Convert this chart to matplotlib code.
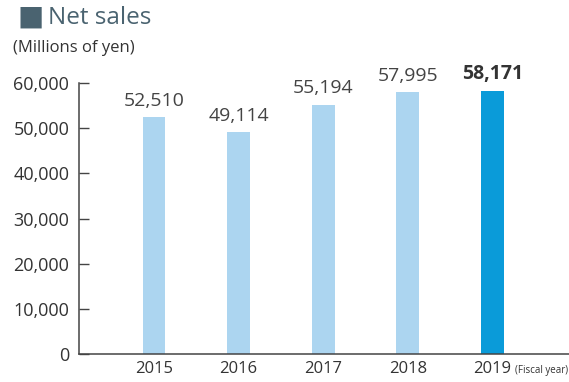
import matplotlib
matplotlib.use("Agg")
import matplotlib.pyplot as plt
from matplotlib.ticker import FuncFormatter

years = ["2015", "2016", "2017", "2018", "2019"]
net_sales = [52510, 49114, 55194, 57995, 58171]
bar_colors = ["#acd5f0", "#acd5f0", "#acd5f0", "#acd5f0", "#0a9bd9"]
y_ticks = [0, 10000, 20000, 30000, 40000, 50000, 60000]

plt.rcParams["font.family"] = ["Open Sans", "DejaVu Sans"]
text_color = "#333333"

fig = plt.figure(figsize=(5.69, 3.82), dpi=100)
ax = fig.add_axes([79 / 569, 1 - 354 / 382, 1 - 79 / 569, (354 - 83) / 382])

x = list(range(len(years)))
ax.bar(x, net_sales, width=0.27, color=bar_colors, zorder=2)

for i, v in enumerate(net_sales):
    last = i == len(years) - 1
    ax.text(i, v + 1600, f"{v:,}", ha="center", va="bottom",
            fontsize=14, color=text_color if last else "#444444",
            fontweight="bold" if last else "normal")

ax.set_xlim(-0.887, 4.905)
ax.set_ylim(0, 60000)
ax.set_xticks(x)
ax.set_xticklabels(years, fontsize=12, color=text_color)
ax.set_yticks(y_ticks)
ax.yaxis.set_major_formatter(FuncFormatter(lambda v, p: f"{int(v):,}"))
ax.tick_params(axis="y", direction="in", length=7, width=1, colors="#444444",
               labelsize=13, labelcolor=text_color, pad=7)
ax.tick_params(axis="x", length=0, labelsize=12, labelcolor=text_color, pad=5)

for s in ("top", "right"):
    ax.spines[s].set_visible(False)
for s in ("left", "bottom"):
    ax.spines[s].set_color("#444444")
    ax.spines[s].set_linewidth(1.1)

fig.text(18 / 569, 1 - 18 / 382, "■", fontsize=20, color="#4a6370",
         va="center", ha="left")
fig.text(48 / 569, 1 - 18 / 382, "Net sales", fontsize=17.5, color="#4a6370",
         va="center", ha="left")
fig.text(13 / 569, 1 - 48 / 382, "(Millions of yen)", fontsize=12,
         color=text_color, va="center", ha="left")
fig.text(515 / 569, 1 - 370 / 382, "(Fiscal year)", fontsize=7,
         color=text_color, va="center", ha="left")

fig.savefig("out.png", dpi=100)
